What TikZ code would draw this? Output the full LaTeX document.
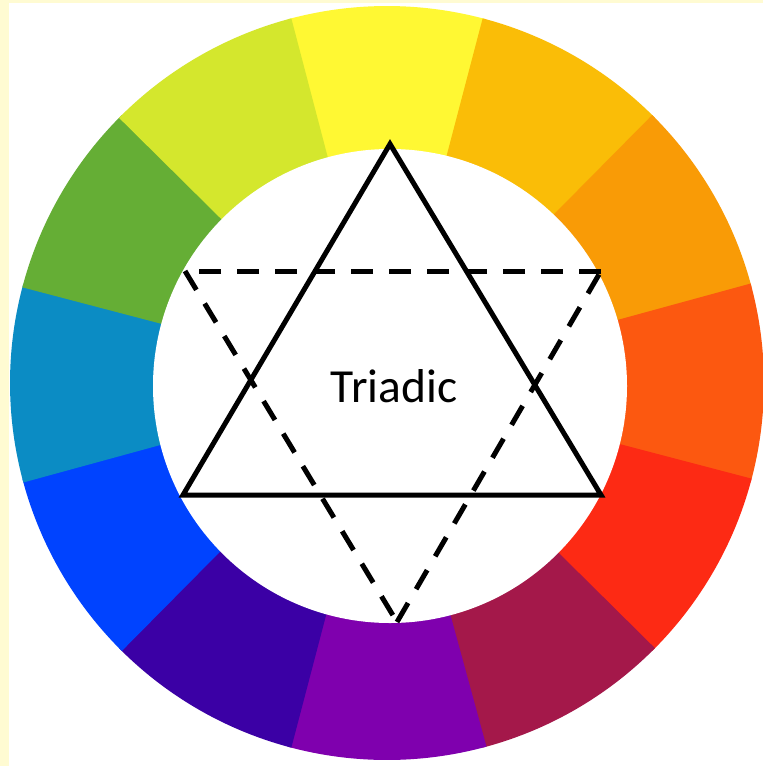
\documentclass[tikz,border=0pt]{standalone}
\usepackage{fontspec}
\setmainfont{Carlito}
\definecolor{cY}{HTML}{FFF833}
\definecolor{cYO}{HTML}{FABD07}
\definecolor{cO}{HTML}{F99B06}
\definecolor{cRO}{HTML}{FC5810}
\definecolor{cR}{HTML}{FD2A14}
\definecolor{cM}{HTML}{A4184A}
\definecolor{cP}{HTML}{7F00AE}
\definecolor{cI}{HTML}{3B00A5}
\definecolor{cB}{HTML}{0043FF}
\definecolor{cT}{HTML}{0B8CC4}
\definecolor{cG}{HTML}{65AE35}
\definecolor{cYG}{HTML}{D4E72D}
\definecolor{strip}{HTML}{FFFBD2}
\begin{document}
\begin{tikzpicture}[x=1pt,y=-1pt,
  solidtri/.style={line width=5pt, line join=miter, black},
  dashtri/.style={line width=5pt, black, dash pattern=on 22pt off 16pt},
  label/.style={inner sep=0pt, font=\fontsize{47.5}{54}\selectfont}]
\useasboundingbox (0,0) rectangle (763,766);
\fill[white] (0,0) rectangle (763,766);
\fill[strip] (0,0) rectangle (9,766);
\fill[strip] (0,0) rectangle (763,3);
\coordinate (C) at (387,383);
\coordinate (Ci) at (390,386);
\foreach \t/\c in {90/cY,60/cYO,30/cO,0/cRO,-30/cR,-60/cM,-90/cP,-120/cI,-150/cB,180/cT,150/cG,120/cYG}{
  \fill[\c] (C) -- +({-\t-15.3}:377) arc[start angle={-\t-15.3}, end angle={-\t+15.3}, radius=377] -- cycle;
}
\fill[white] (Ci) circle[radius=237];
% solid triangle
\coordinate (A) at (390,144);
\coordinate (BL) at (183,495);
\coordinate (BR) at (601,495);
\draw[solidtri] (A) -- (BR) -- (BL) -- cycle;
% dashed triangle
\coordinate (TL) at (185,271);
\coordinate (TR) at (601,271);
\coordinate (BB) at (397,622);
\draw[dashtri] (TR) -- (TL);
\draw[dashtri] (TL) -- (BB);
\draw[dashtri] (BB) -- (TR);
\node[label] (lbl) at (394,386) {Triadic};
\end{tikzpicture}
\end{document}
